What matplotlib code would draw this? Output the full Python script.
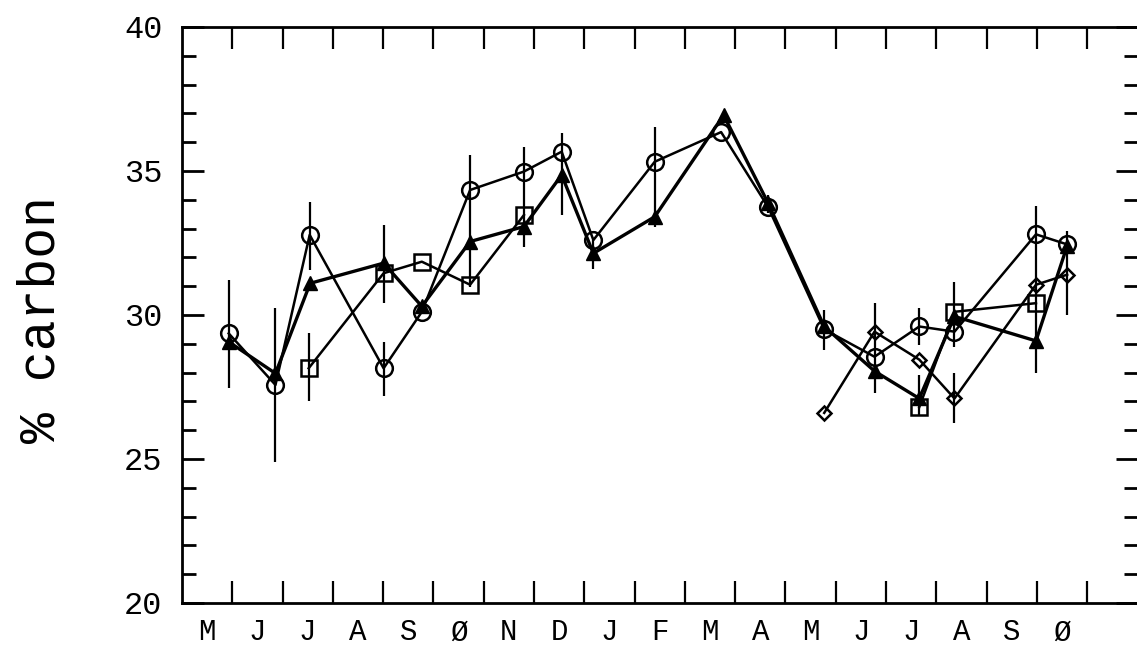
import numpy as np
import matplotlib
matplotlib.use("Agg")
import matplotlib.pyplot as plt

# month labels (May of year 1 to Oct of year 2), plotter style slashed O
months = ["M", "J", "J", "A", "S", "Ø", "N", "D", "J", "F", "M", "A",
          "M", "J", "J", "A", "S", "Ø"]

# sample dates in months since 1 May (year 1)
circ_x = [0.93, 1.86, 2.54, 4.01, 4.77, 5.73, 6.80, 7.55, 8.18, 9.40, 10.72,
          11.65, 12.77, 13.77, 14.66, 15.36, 16.98, 17.60]
circ_y = [29.36, 27.57, 32.78, 28.15, 30.11, 34.34, 34.98, 35.67, 32.60, 35.32,
          36.35, 33.76, 29.50, 28.55, 29.60, 29.42, 32.80, 32.45]

tri_x = [0.93, 1.86, 2.55, 4.01, 4.77, 5.73, 6.80, 7.55, 8.18, 9.40, 10.77,
         11.65, 12.77, 13.77, 14.66, 15.36, 16.98, 17.60]
tri_y = [29.07, 27.97, 31.10, 31.80, 30.30, 32.55, 33.07, 34.86, 32.14, 33.41,
         36.94, 33.90, 29.60, 28.05, 27.10, 29.95, 29.10, 32.40]

sq_x = [2.52, 4.01, 4.77, 5.73, 6.80, np.nan, 14.66, 15.36, 16.98]
sq_y = [28.15, 31.45, 31.85, 31.05, 33.47, np.nan, 26.80, 30.11, 30.41]

dia_x = [12.77, 13.77, 14.66, 15.36, 16.98, 17.60]
dia_y = [26.60, 29.42, 28.45, 27.10, 31.05, 31.40]

# vertical error bars: date, low, high
err_x = [0.93, 1.86, 2.52, 2.54, 4.01, 4.01, 5.73, 6.80, 7.55, 8.18, 9.40,
         11.65, 12.77, 13.77, 14.66, 14.66, 15.36, 15.36, 16.98, 17.60]
err_lo = [27.45, 24.90, 27.00, 31.56, 30.40, 27.20, 30.98, 32.37, 33.47, 31.60,
          33.07, 33.55, 28.78, 27.30, 28.96, 26.50, 28.90, 26.25, 28.00, 30.00]
err_hi = [31.20, 30.23, 29.36, 33.93, 33.13, 29.07, 35.56, 35.84, 36.31, 32.60,
          36.54, 34.15, 30.17, 30.40, 30.24, 27.90, 31.16, 28.00, 33.80, 32.90]

plt.rcParams['font.family'] = ['Liberation Mono', 'DejaVu Sans']

fig = plt.figure(figsize=(11.37, 6.53), dpi=100)
ax = fig.add_axes([0.160, 0.0766, 0.8405, 0.8821])

ax.vlines(err_x, err_lo, err_hi, color='black', lw=1.6, zorder=2)

ax.plot(circ_x, circ_y, color='black', lw=1.8, marker='o', ms=12,
        mfc='none', mec='black', mew=1.8, zorder=3)
ax.plot(tri_x, tri_y, color='black', lw=2.4, marker='^', ms=10,
        mfc='black', mec='black', zorder=3)
ax.plot(sq_x, sq_y, color='black', lw=1.8, marker='s', ms=11,
        mfc='none', mec='black', mew=1.8, zorder=3)
ax.plot(dia_x, dia_y, color='black', lw=1.8, marker='D', ms=7,
        mfc='none', mec='black', mew=1.8, zorder=3)

ax.set_xlim(0, 19)
ax.set_ylim(20, 40)

ax.set_xticks(np.arange(1, 19))
ax.set_xticklabels([])
ax.set_xticks(np.arange(0.5, 18.5), minor=True)
ax.set_xticklabels(months, minor=True, fontsize=21)
ax.tick_params(axis='x', which='major', direction='in', length=16, width=1.6,
               top=True, bottom=True)
ax.tick_params(axis='x', which='minor', length=0, pad=11)

ax.set_yticks([20, 25, 30, 35, 40])
ax.set_yticklabels(['20', '25', '30', '35', '40'], fontsize=23)
ax.set_yticks(np.arange(20, 41, 1), minor=True)
ax.tick_params(axis='y', which='major', direction='in', length=16, width=2,
               left=True, right=True, pad=14)
ax.tick_params(axis='y', which='minor', direction='in', length=10, width=2,
               left=True, right=True)

for s in ax.spines.values():
    s.set_linewidth(2)

fig.text(0.036, 0.51, '% carbon', rotation=90, ha='center', va='center',
         fontsize=37)

fig.savefig('out.png', dpi=100)
